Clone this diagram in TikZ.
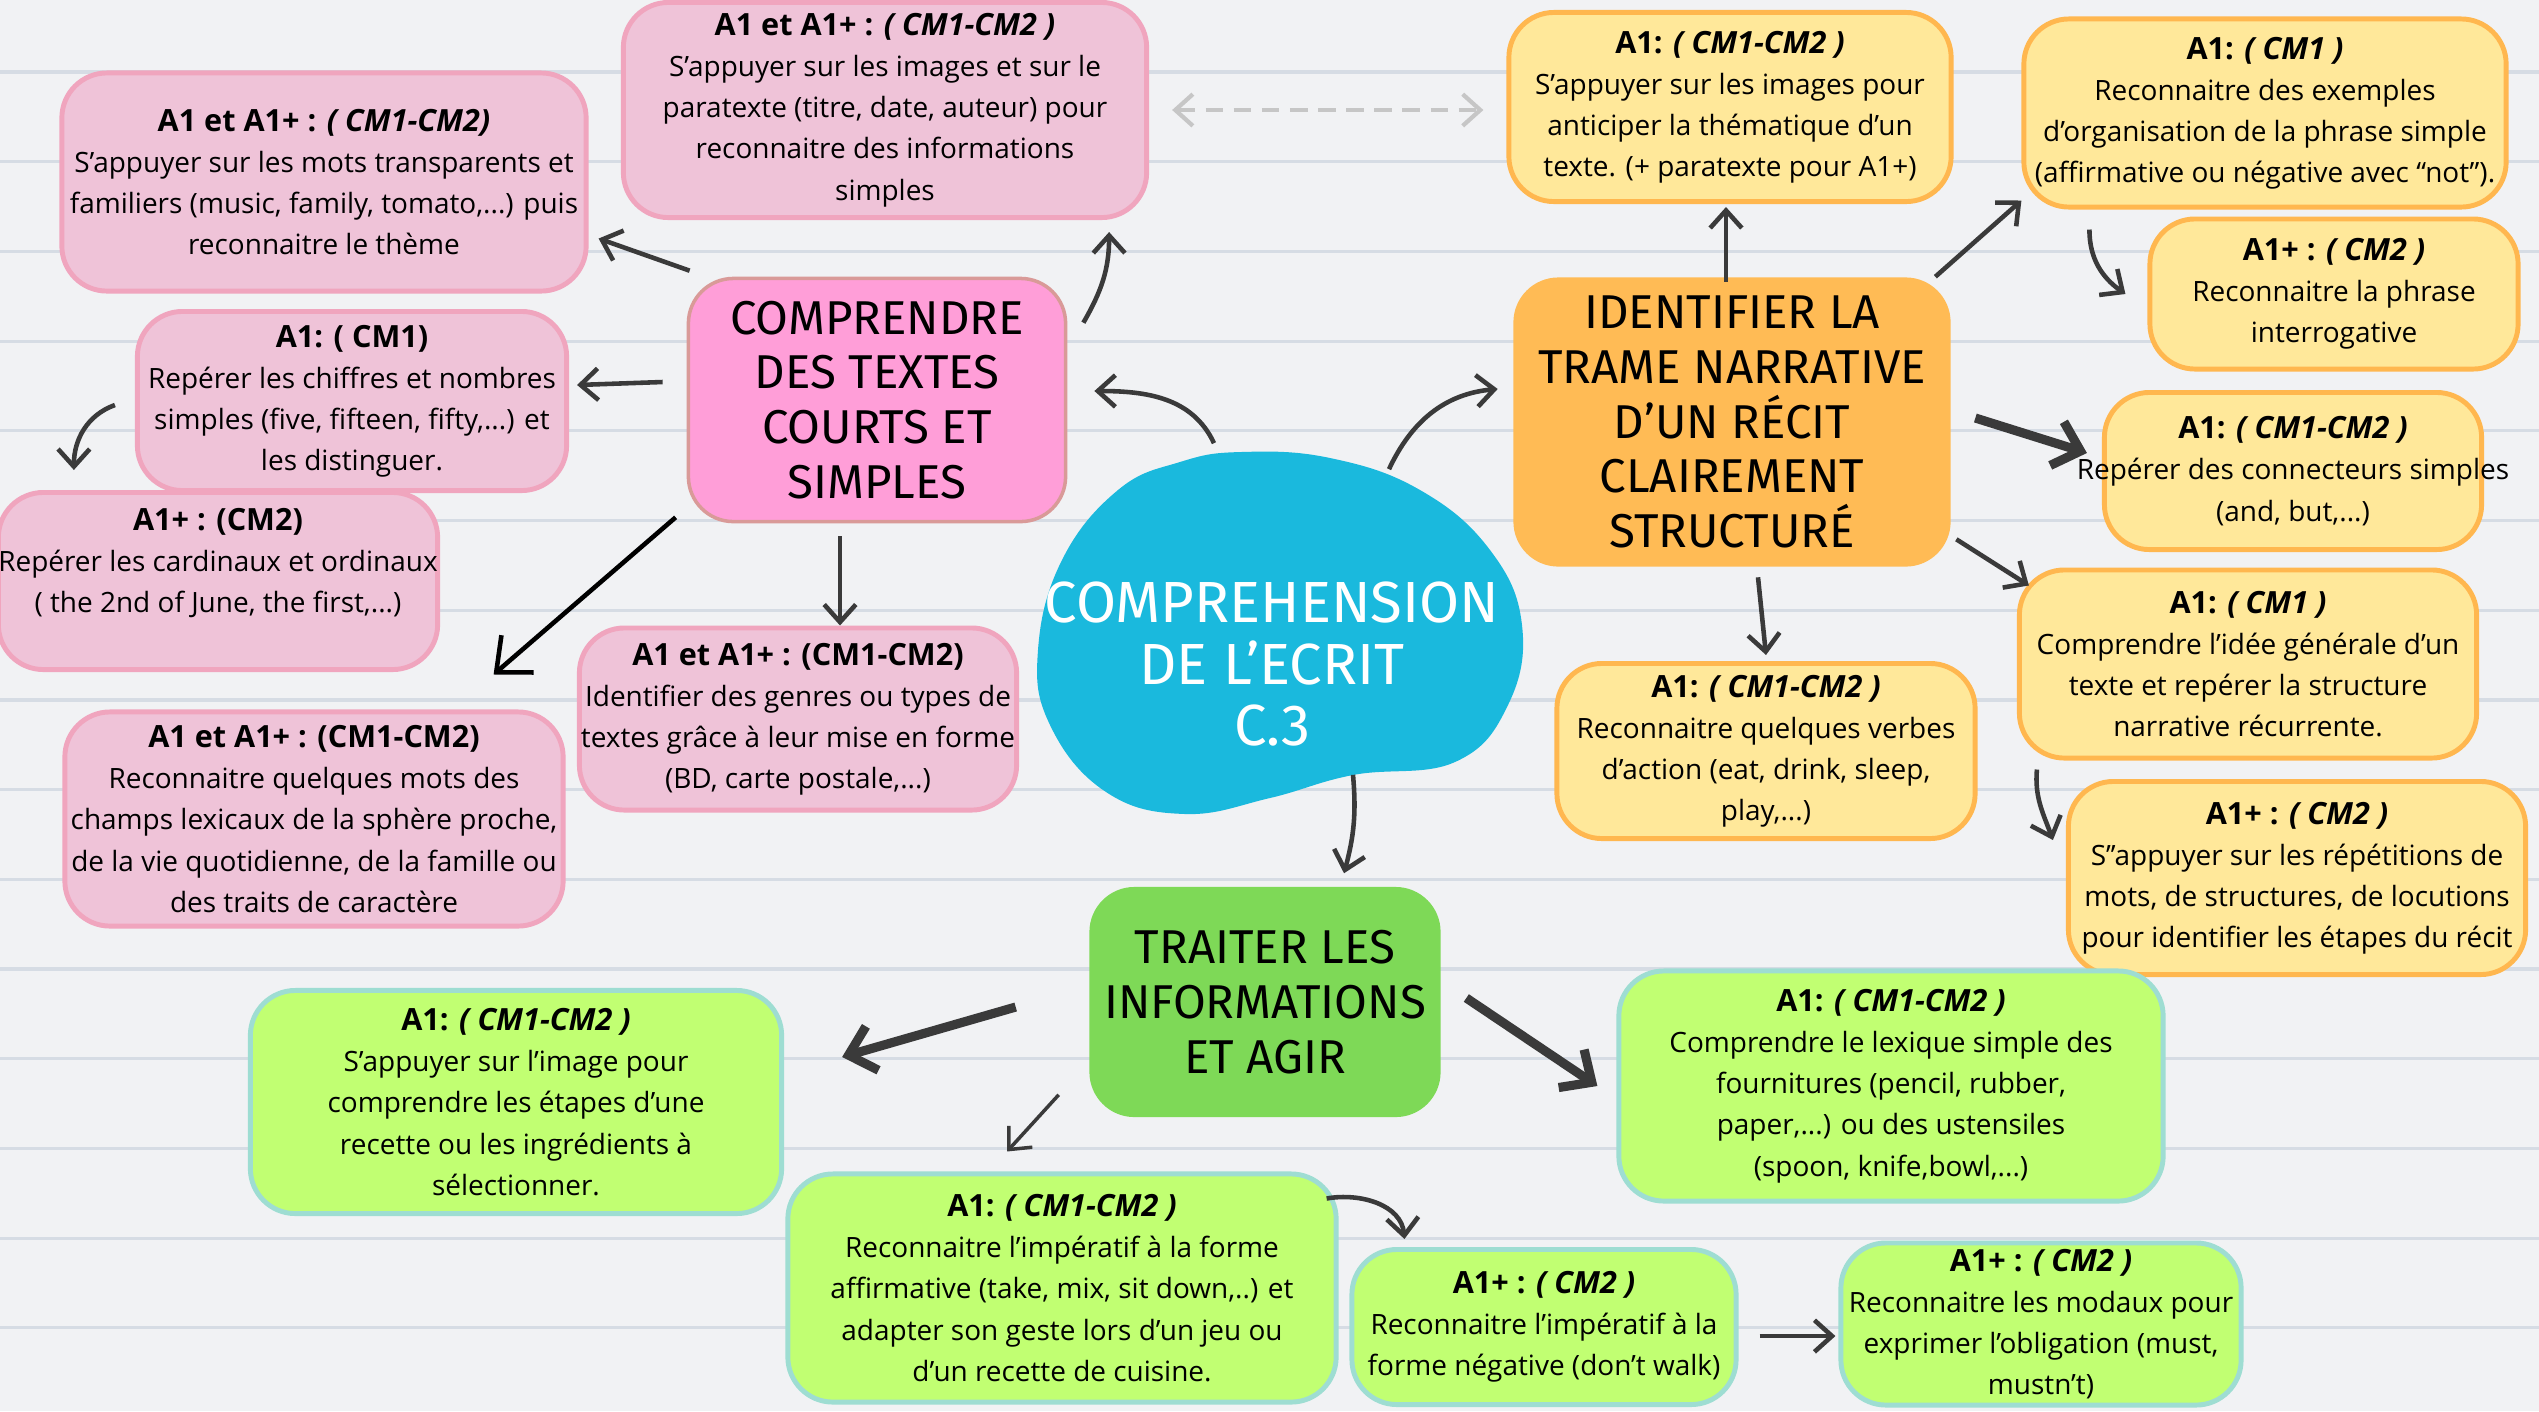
\documentclass[tikz,border=0pt]{standalone}
\usepackage{fontspec}
\setmainfont{Open Sans}
\newfontfamily\titlefont{Fira Sans}
\usetikzlibrary{arrows.meta, calc}

\definecolor{paper}{HTML}{F1F2F4}
\definecolor{ruling}{HTML}{D6DCE4}
\definecolor{pinkfill}{HTML}{EFC3D8}
\definecolor{pinkline}{HTML}{F0A5BE}
\definecolor{pinkmain}{HTML}{FF9ED8}
\definecolor{pinkmainline}{HTML}{D99A98}
\definecolor{yellowfill}{HTML}{FFE89A}
\definecolor{yellowline}{HTML}{FFB74F}
\definecolor{orangemain}{HTML}{FFBB55}
\definecolor{greenfill}{HTML}{C1FF72}
\definecolor{greenline}{HTML}{9EDDD2}
\definecolor{greenmain}{HTML}{7ED957}
\definecolor{bluemain}{HTML}{1AB9DD}
\definecolor{ink}{HTML}{3A3A3A}

\begin{document}
\begin{tikzpicture}[x = 0.01cm, y = 0.01cm,
	> = {Straight Barb[length = 5pt, width = 9pt]},
	box/.style = {rounded corners = 0.45cm, line width = 1.4pt, align = center,
		inner sep = 0pt, font = \fontsize{7.95}{11.7}\selectfont},
	pinkbox/.style = {box, fill = pinkfill, draw = pinkline},
	yellowbox/.style = {box, fill = yellowfill, draw = yellowline},
	greenbox/.style = {box, fill = greenfill, draw = greenline},
	title/.style = {rounded corners = 0.45cm, align = center, inner sep = 0pt,
		font = \titlefont\fontsize{13.5}{15.6}\selectfont},
	arr/.style = {->, ink, line width = 1.3pt},
	bigarr/.style = {->, ink, line width = 2.6pt, > = {Straight Barb[length = 7pt, width = 13pt]}},
	linkarr/.style = {<->, gray!45, dashed, line width = 1.2pt, dash pattern = on 5pt off 3pt}]

	% Level headings
	
	\def\hd#1{{\fontsize{8.7}{11.7}\selectfont\bfseries #1}}
	\def\lvl#1#2{\hd{#1 \textit{#2}}}
	
	% Ruled paper
	
	\useasboundingbox (0, 0) rectangle (2539, -1411);
	\fill [paper] (0, 0) rectangle (2539, -1411);
	\foreach \k in {0, ..., 14}
		\draw [ruling, line width = 0.9pt] (0, {-72 - 89.7 * \k}) -- (2539, {-72 - 89.7 * \k});
	
	% Central blob
	
	\fill [bluemain] plot [smooth cycle, tension = 0.7] coordinates {(1241, -452) (1330, -458)
		(1420, -490) (1490, -550) (1522, -625) (1508, -705) (1455, -762) (1353, -775)
		(1270, -798) (1185, -814) (1106, -792) (1050, -725) (1038, -650) (1062, -560)
		(1118, -490) (1180, -462)};
	\node [title, white, minimum width = 4.83cm, minimum height = 4.3cm,
		font = \titlefont\fontsize{16.5}{17.6}\selectfont] (core) at (1272, -664)
		{COMPREHENSION\\ DE L’ECRIT\\ C.3};
	
	% Comprendre des textes courts et simples
	
	\node [title, fill = pinkmain, draw = pinkmainline, line width = 1pt,
		minimum width = 3.77cm, minimum height = 2.43cm] (W) at (877, -400)
		{COMPRENDRE\\ DES TEXTES\\ COURTS ET\\ SIMPLES};
	\node [pinkbox, minimum width = 5.24cm, minimum height = 2.18cm] (A) at (324, -182)
		{\lvl{A1 et A1+ :}{( CM1-CM2)}\\ S’appuyer sur les mots transparents et\\
		familiers (music, family, tomato,...) puis\\ reconnaitre le thème};
	\node [pinkbox, minimum width = 5.23cm, minimum height = 2.15cm] (B) at (885, -110)
		{\lvl{A1 et A1+ :}{( CM1-CM2 )}\\ S’appuyer sur les images et sur le\\
		paratexte (titre, date, auteur) pour\\ reconnaitre des informations\\ simples};
	\node [pinkbox, minimum width = 4.29cm, minimum height = 1.79cm] (S) at (352, -401)
		{\hd{A1: ( CM1)}\\ Repérer les chiffres et nombres\\
		simples (five, fifteen, fifty,...) et\\ les distinguer.};
	\node [pinkbox, minimum width = 4.29cm, minimum height = 1.77cm] (T) at (218, -581)
		{\hd{A1+ : (CM2)}\\ Repérer les cardinaux et ordinaux\\
		( the 2nd of June, the first,...)\\ \mbox{}};
	\node [pinkbox, minimum width = 4.37cm, minimum height = 1.82cm] (U) at (798, -719)
		{\hd{A1 et A1+ : (CM1-CM2)}\\ Identifier des genres ou types de\\
		textes grâce à leur mise en forme\\ (BD, carte postale,...)};
	\node [pinkbox, minimum width = 4.98cm, minimum height = 2.14cm] (V) at (314, -819)
		{\hd{A1 et A1+ : (CM1-CM2)}\\ Reconnaitre quelques mots des\\
		champs lexicaux de la sphère proche,\\ de la vie quotidienne, de la famille ou\\
		des traits de caractère};
	
	% Identifier la trame narrative
	
	\node [title, fill = orangemain, minimum width = 4.37cm, minimum height = 2.89cm] (G)
		at (1732, -422) {IDENTIFIER LA\\ TRAME NARRATIVE\\ D’UN RÉCIT\\ CLAIREMENT\\ STRUCTURÉ};
	\node [yellowbox, minimum width = 4.42cm, minimum height = 1.89cm] (D) at (1730, -107)
		{\lvl{A1:}{( CM1-CM2 )}\\ S’appuyer sur les images pour\\
		anticiper la thématique d’un\\ texte. (+ paratexte pour A1+)};
	\node [yellowbox, minimum width = 4.82cm, minimum height = 1.88cm] (E) at (2265, -113)
		{\lvl{A1:}{( CM1 )}\\ Reconnaitre des exemples\\
		d’organisation de la phrase simple\\ \makebox[0pt]{(affirmative ou négative avec “not”).}};
	\node [yellowbox, minimum width = 3.68cm, minimum height = 1.5cm] (F) at (2334, -294)
		{\lvl{A1+ :}{( CM2 )}\\ Reconnaitre la phrase\\ interrogative};
	\node [yellowbox, minimum width = 3.77cm, minimum height = 1.57cm] (H) at (2293, -471)
		{\lvl{A1:}{( CM1-CM2 )}\\ \makebox[0pt]{Repérer des connecteurs simples}\\ (and, but,...)};
	\node [yellowbox, minimum width = 4.57cm, minimum height = 1.88cm] (I) at (2248, -664)
		{\lvl{A1:}{( CM1 )}\\ Comprendre l’idée générale d’un\\
		texte et repérer la structure\\ narrative récurrente.};
	\node [yellowbox, minimum width = 4.57cm, minimum height = 1.93cm] (J) at (2297, -878)
		{\lvl{A1+ :}{( CM2 )}\\ S’’appuyer sur les répétitions de\\
		mots, de structures, de locutions\\ pour identifier les étapes du récit};
	\node [yellowbox, minimum width = 4.18cm, minimum height = 1.75cm] (K) at (1766, -751)
		{\lvl{A1:}{( CM1-CM2 )}\\ Reconnaitre quelques verbes\\
		d’action (eat, drink, sleep,\\ play,...)};
	
	% Traiter les informations et agir
	
	\node [title, fill = greenmain, minimum width = 3.51cm, minimum height = 2.3cm] (M)
		at (1265, -1002) {TRAITER LES\\ INFORMATIONS\\ ET AGIR};
	\node [greenbox, minimum width = 5.31cm, minimum height = 2.23cm] (N) at (516, -1102)
		{\lvl{A1:}{( CM1-CM2 )}\\ S’appuyer sur l’image pour\\
		comprendre les étapes d’une\\ recette ou les ingrédients à\\ sélectionner.};
	\node [greenbox, minimum width = 5.48cm, minimum height = 2.28cm] (O) at (1062, -1288)
		{\lvl{A1:}{( CM1-CM2 )}\\ Reconnaitre l’impératif à la forme\\
		affirmative (take, mix, sit down,..) et\\ adapter son geste lors d’un jeu ou\\
		d’un recette de cuisine.};
	\node [greenbox, minimum width = 5.44cm, minimum height = 2.3cm] (P) at (1891, -1086)
		{\lvl{A1:}{( CM1-CM2 )}\\ Comprendre le lexique simple des\\
		fournitures (pencil, rubber,\\ paper,...) ou des ustensiles\\ (spoon, knife,bowl,...)};
	\node [greenbox, minimum width = 3.84cm, minimum height = 1.55cm] (Q) at (1544, -1327)
		{\lvl{A1+ :}{( CM2 )}\\ Reconnaitre l’impératif à la\\ forme négative (don’t walk)};
	\node [greenbox, minimum width = 4cm, minimum height = 1.62cm] (R) at (2041, -1324)
		{\lvl{A1+ :}{( CM2 )}\\ Reconnaitre les modaux pour\\
		exprimer l’obligation (must,\\ mustn’t)};
	
	% Arrows from the centre
	
	\draw [arr] ($(core.north) + (-58, 5)$) to [out = 115, in = 0] ($(W.east) + (27, 9)$);
	\draw [arr] ($(core.north) + (117, -21)$) to [out = 65, in = 185] ($(G.west) + (-15, 33)$);
	\draw [arr] ($(core.south) + (81, 105)$) to [out = -85, in = 75] ($(M.north) + (79, 13)$);
	
	% Arrows on the left
	
	\draw [arr] ($(W.north west) + (3, 6)$) -- ($(A.south east) + (10, 55)$);
	\draw [arr] ($(W.north east) + (16, -46)$) to [out = 60, in = -90] ($(B.south east) + (-40, -12)$);
	\draw [arr] ($(W.west) + (-24, 18)$) -- ($(S.east) + (8, 16)$);
	\draw [arr] ($(S.west) + (-20, -4)$) to [out = 200, in = 90] ($(T.north west) + (78, 20)$);
	\draw [->, black, line width = 1.3pt, > = {Straight Barb[length = 8pt, width = 14pt]}]
		($(W.south west) + (-11, 6)$) -- ($(V.north east) + (-72, 35)$);
	\draw [arr] ($(W.south) + (-37, -13)$) -- ($(U.north) + (42, 0)$);
	\draw [linkarr] ($(B.east) + (23, 0)$) -- ($(D.west) + (-23, -3)$);
	
	% Arrows on the right
	
	\draw [arr] ($(G.north) + (-6, -5)$) -- ($(D.south) + (-4, -3)$);
	\draw [arr] ($(G.north east) + (-16, 0)$) -- ($(E.south west) + (0, 9)$);
	\draw [arr] ($(E.south west) + (68, -20)$) to [out = -90, in = 145] ($(F.west) + (-22, 0)$);
	\draw [bigarr] ($(G.east) + (24, 4)$) -- ($(H.west) + (-15, 18)$);
	\draw [arr] ($(G.south east) + (5, 28)$) -- ($(I.north west) + (12, -18)$);
	\draw [arr] ($(G.south) + (26, -10)$) -- ($(K.north) + (0, 6)$);
	\draw [arr] ($(I.south west) + (20, -9)$) to [out = -95, in = 110] ($(J.west) + (-13, 38)$);
	
	% Arrows at the bottom
	
	\draw [bigarr] ($(M.west) + (-73, -5)$) -- ($(N.north east) + (58, -69)$);
	\draw [->, ink, line width = 1pt] ($(M.south west) + (-30, 23)$) -- ($(O.north) + (-55, 20)$);
	\draw [bigarr] ($(M.east) + (25, 4)$) -- ($(P.west) + (-19, 0)$);
	\draw [arr] ($(O.north east) + (-12, -27)$) to [out = 10, in = 95] ($(Q.north west) + (55, 8)$);
	\draw [arr] ($(Q.east) + (21, -9)$) -- ($(R.west) + (-3, -12)$);

\end{tikzpicture}
\end{document}
